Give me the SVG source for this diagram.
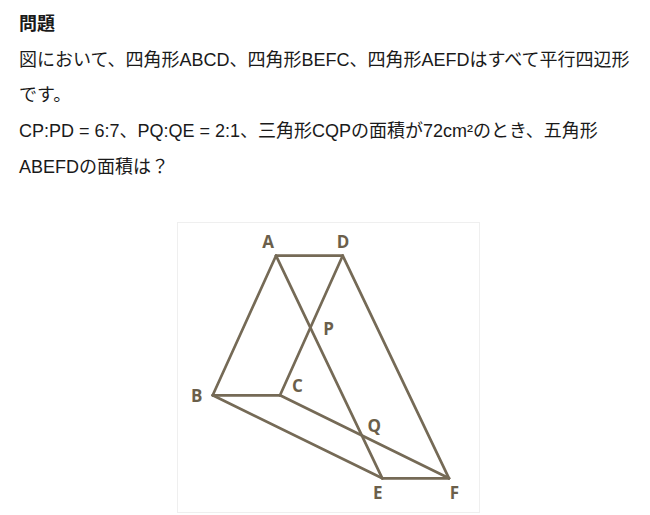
<svg xmlns="http://www.w3.org/2000/svg" width="650" height="515" viewBox="0 0 650 515">
<style>
.t{font-family:"Liberation Sans","Noto Sans CJK JP",sans-serif;font-size:18px;fill:#1a1a1a}
.b{font-weight:bold}
.lab{font-family:"Open Sans","Liberation Sans",sans-serif;font-weight:bold;font-size:17px;fill:#6b5f4b;text-anchor:middle}
.ln{stroke:#756a56;stroke-width:2.7;fill:none;stroke-linecap:round;stroke-linejoin:round}
</style>
<rect width="650" height="515" fill="#ffffff"/>
<g id="text">
<text class="t b" x="19" y="30">問題</text>
<text class="t" x="19" y="65.5">図において、四角形ABCD、四角形BEFC、四角形AEFDはすべて平行四辺形</text>
<text class="t" x="19" y="101">です。</text>
<text class="t" x="19" y="137">CP:PD = 6:7、PQ:QE = 2:1、三角形CQPの面積が72cm²のとき、五角形</text>
<text class="t" x="19" y="172.5">ABEFDの面積は？</text>
</g>
<rect id="frame" x="177.5" y="222.5" width="302" height="290" fill="none" stroke="#efefef" stroke-width="1"/>
<g id="connectors">
<line class="ln" x1="276" y1="255.7" x2="342.7" y2="255.7"/>
<line class="ln" x1="276" y1="255.7" x2="212.7" y2="395.3"/>
<line class="ln" x1="212.7" y1="395.3" x2="280" y2="395.3"/>
<line class="ln" x1="280" y1="395.3" x2="342.7" y2="255.7"/>
<line class="ln" x1="276" y1="255.7" x2="382.3" y2="478.3"/>
<line class="ln" x1="342.7" y1="255.7" x2="449" y2="478.3"/>
<line class="ln" x1="212.7" y1="395.3" x2="382.3" y2="478.3"/>
<line class="ln" x1="280" y1="395.3" x2="449" y2="478.3"/>
<line class="ln" x1="382.3" y1="478.3" x2="449" y2="478.3"/>
</g>
<g id="A"><text class="lab" x="268" y="248">A</text></g>
<g id="D"><text class="lab" x="343" y="248">D</text></g>
<g id="P"><text class="lab" x="328.7" y="334.5">P</text></g>
<g id="B"><text class="lab" x="196.7" y="402">B</text></g>
<g id="C"><text class="lab" x="297.3" y="392">C</text></g>
<g id="Q"><text class="lab" x="374.3" y="432">Q</text></g>
<g id="E"><text class="lab" x="377.7" y="498.5">E</text></g>
<g id="F"><text class="lab" x="454.3" y="498.5">F</text></g>
</svg>
